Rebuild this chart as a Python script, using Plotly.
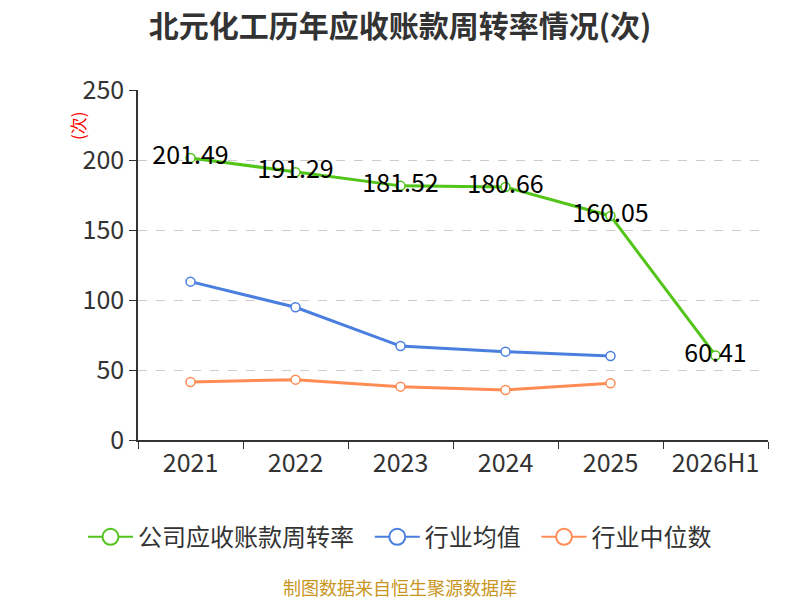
import plotly.graph_objects as go

years = ["2021", "2022", "2023", "2024", "2025", "2026H1"]
company = [201.49, 191.29, 181.52, 180.66, 160.05, 60.41]
ind_mean = [113.1, 94.8, 67.1, 63.1, 60.0]
ind_median = [41.4, 43.1, 38.1, 35.7, 40.5]

names = ["公司应收账款周转率", "行业均值", "行业中位数"]
colors = ["#52c41a", "#4a7fe0", "#ff8c55"]

font_cn = "Noto Sans CJK SC"

fig = go.Figure()
fig.add_trace(go.Scatter(
    x=years, y=company, name=names[0], showlegend=False,
    mode="lines+markers+text",
    text=[f"{v:.2f}" for v in company], textposition="middle center",
    textfont=dict(size=25, color="#000000", family=font_cn),
    line=dict(color=colors[0], width=3),
    marker=dict(symbol="circle", size=9, color="white", line=dict(color=colors[0], width=1.5)),
))
fig.add_trace(go.Scatter(
    x=years[:5], y=ind_mean, name=names[1], mode="lines+markers", showlegend=False,
    line=dict(color=colors[1], width=3),
    marker=dict(symbol="circle", size=9, color="white", line=dict(color=colors[1], width=1.5)),
))
fig.add_trace(go.Scatter(
    x=years[:5], y=ind_median, name=names[2], mode="lines+markers", showlegend=False,
    line=dict(color=colors[2], width=3),
    marker=dict(symbol="circle", size=9, color="white", line=dict(color=colors[2], width=1.5)),
))
# legend entries with bigger symbols
pad = "\u00a0" * 2
for i, (n, c) in enumerate(zip(names, colors)):
    fig.add_trace(go.Scatter(
        x=[None], y=[None], name=n + (pad if i < 2 else ""), mode="lines+markers",
        line=dict(color=c, width=2),
        marker=dict(symbol="circle", size=16, color="white", line=dict(color=c, width=2)),
    ))

# page body has an 8px margin, so the figure is placed 8px up/left of the target
fig.update_layout(
    width=800, height=600,
    paper_bgcolor="white", plot_bgcolor="white",
    margin=dict(l=130, r=40, t=82, b=168, autoexpand=False),
    font=dict(family=font_cn, color="#333333"),
    title=dict(text="<b>北元化工历年应收账款周转率情况(次)</b>", x=0.49, xanchor="center",
               xref="container", y=0.97, yanchor="middle", font=dict(size=30, color="#333333")),
    showlegend=True,
    legend=dict(orientation="h", xref="container", x=0.49, xanchor="center",
                yref="container", y=0.118, yanchor="middle",
                font=dict(size=24, color="#333333"), itemwidth=45),
    xaxis=dict(type="category", range=[-0.5, 5.5], showline=True, linecolor="#333333",
               linewidth=1.5, ticks="outside", tickson="boundaries", ticklen=7,
               tickcolor="#333333", tickfont=dict(size=25, color="#333333"),
               showgrid=False, tickangle=0, automargin=False),
    yaxis=dict(range=[0, 250], dtick=50, showline=True, linecolor="#333333", linewidth=1.5,
               ticks="outside", ticklen=7, tickcolor="#333333",
               tickfont=dict(size=25, color="#333333"),
               showgrid=True, gridcolor="#cccccc", griddash="dash", gridwidth=1.2,
               zeroline=False, automargin=False),
    annotations=[
        dict(text="(次)", x=-0.097, y=0.9, xref="paper", yref="paper", showarrow=False,
             xanchor="center", yanchor="middle",
             textangle=-90, font=dict(size=17, color="red")),
        dict(text="制图数据来自恒生聚源数据库", x=0.416, y=-0.42, xref="paper", yref="paper",
             showarrow=False, xanchor="center", yanchor="middle",
             font=dict(size=18, color="#c8961e")),
    ],
)

fig.write_html("out.html")
